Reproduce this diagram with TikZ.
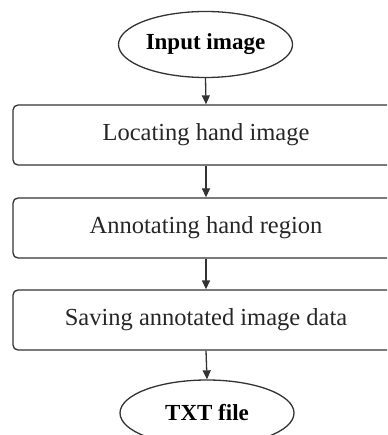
\documentclass[tikz,border=0pt]{standalone}
\usepackage{fontspec}
\setmainfont{Liberation Serif}
\usetikzlibrary{shapes.geometric,arrows.meta}
\definecolor{linec}{HTML}{333333}
\tikzset{
  termnode/.style={draw=linec, line width=1.3pt, ellipse, minimum width=174pt, minimum height=66pt, inner sep=0pt, font=\fontsize{23}{27}\selectfont\bfseries, text=black},
  stepbox/.style={draw=linec, line width=1.3pt, rectangle, rounded corners=5pt, minimum width=386pt, minimum height=60pt, inner sep=0pt, font=\fontsize{24.5}{28}\selectfont, text=black!85},
  flow/.style={draw=linec, line width=1.3pt, -{Triangle[length=9pt,width=8pt]}}
}
\begin{document}
\begin{tikzpicture}[x=1pt,y=-1pt]
\useasboundingbox (0,0) rectangle (387,435);
\clip (0,0) rectangle (387,435);
\node[termnode] (in) at (205.5,44.5) {Input image};
\node[stepbox] (s1) at (206,135) {Locating hand image};
\node[stepbox] (s2) at (206,228) {Annotating hand region};
\node[stepbox] (s3) at (206,320) {Saving annotated image data};
\node[termnode] (out) at (207,413) {TXT file};
\draw[flow] (in.south) -- (s1.north);
\draw[flow] (s1.south) -- (s2.north);
\draw[flow] (s2.south) -- (s3.north);
\draw[flow] (s3.south) -- (out.north);
\end{tikzpicture}
\end{document}
